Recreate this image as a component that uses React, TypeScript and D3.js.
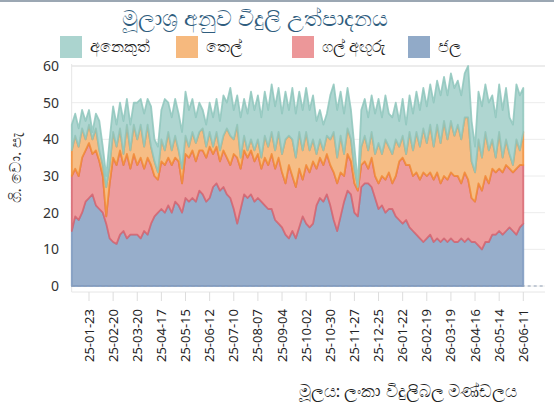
import React from "react";
import * as d3 from "d3";

// ---- data (GWh per day, sampled every 4 days from start date) ----
const startDate = "2025-01-03";
const stepDays = 4;

const hydro = [
  15, 19, 18, 20, 23, 24, 25, 22, 21, 20,
  17, 13, 12, 11.5, 14, 15, 13, 14, 14, 14,
  13, 15, 14, 17, 19, 20, 21, 20, 22, 20,
  23, 22, 20, 24, 23, 24, 23, 26, 25, 23,
  24, 27, 28, 26, 27, 25, 24, 21, 17, 21,
  25, 24, 25, 23, 24, 23, 22, 21, 21, 18,
  17, 16, 14, 13, 15, 13, 16, 19, 17, 16,
  17, 22, 24, 23, 25, 22, 18, 15, 19, 23,
  26, 25, 20, 19, 27, 28, 28, 27, 24, 21,
  22, 20, 21, 21, 19, 18, 17, 18, 16, 15,
  14, 13, 12, 13, 14, 12, 13, 12, 13, 12,
  13, 12, 12, 13, 12, 13, 12, 12, 11, 10,
  12, 12, 14, 14, 15, 14, 15, 16, 15, 14,
  16, 17,
];
const coal = [
  15, 13, 12, 15, 14, 15, 11, 15, 13, 10,
  2, 15, 23, 21.5, 23, 18, 23, 18, 22, 19,
  22, 17, 21, 16, 11, 9, 13, 13, 13, 13,
  12, 12, 8, 12, 12, 13, 11, 11, 12, 12,
  14, 9, 10, 8, 10, 10, 9, 15, 18, 11,
  12, 11, 12, 11, 12, 9, 13, 12, 15, 14,
  18, 15, 14, 20, 15, 14, 16, 10, 16, 15,
  17, 10, 11, 10, 11, 11, 13, 13, 12, 7,
  10, 9, 8, 7, 6, 6, 4, 8, 6, 7,
  8, 9, 10, 7, 11, 16, 18, 15, 17, 15,
  17, 16, 19, 17, 17, 17, 18, 16, 17, 17,
  18, 18, 18, 15, 19, 16, 12, 11, 17, 16,
  18, 16, 18, 17, 17, 17, 18, 16, 16, 18,
  17, 16,
];
const oil = [
  7, 9, 8, 8, 3, 5, 4, 6, 3, 3,
  8, 5, 7, 5, 6, 3, 8, 5, 8, 7,
  9, 6, 9, 5, 4, 2, 6, 4, 7, 4,
  6, 3, 4, 5, 3, 5, 5, 5, 6, 3,
  4, 2, 4, 3, 4, 8, 8, 4, 9, 3,
  4, 2, 3, 3, 4, 3, 6, 5, 6, 5,
  7, 5, 12, 8, 10, 8, 10, 8, 9, 6,
  6, 4, 5, 4, 5, 7, 11, 7, 10, 6,
  7, 6, 4, 1, 5, 7, 5, 7, 6, 11,
  6, 11, 7, 8, 10, 4, 6, 3, 9, 7,
  11, 9, 12, 9, 13, 9, 13, 11, 15, 11,
  14, 11, 14, 12, 15, 17, 10, 8, 12, 9,
  12, 9, 8, 4, 10, 4, 7, 4, 2, 8,
  4, 9,
];
const other = [
  7, 6, 5, 5, 5, 4, 2, 4, 8, 5,
  3, 7, 7, 6, 7, 9, 7, 7, 6, 10,
  7, 9, 7, 11, 6, 7, 8, 14, 8, 9,
  10, 10, 10, 12, 10, 9, 7, 8, 5, 6,
  8, 8, 9, 8, 11, 7, 13, 8, 8, 11,
  10, 10, 13, 11, 12, 11, 12, 10, 13, 12,
  12, 11, 13, 7, 14, 12, 11, 11, 12, 11,
  12, 9, 8, 7, 6, 12, 13, 13, 12, 11,
  11, 8, 6, 1, 10, 10, 9, 10, 11, 12,
  10, 12, 9, 10, 10, 7, 10, 8, 10, 10,
  11, 10, 11, 10, 11, 12, 12, 13, 12, 12,
  13, 13, 12, 12, 12, 14, 11, 7, 13, 14,
  13, 13, 12, 11, 13, 13, 14, 10, 11, 15,
  15, 12,
];

const seriesKeys = ["hydro", "coal", "oil", "other"];
const seriesLabels = ["ජල", "ගල් අඟුරු", "තෙල්", "අනෙකුත්"];
const legendOrder = ["other", "oil", "coal", "hydro"];
const fillColors = ["#91aac8", "#ec9799", "#f6b97e", "#abd4cf"];
const strokeColors = ["#7d99c0", "#d7646e", "#f28c36", "#8ec6bc"];

const yTicks = [0, 10, 20, 30, 40, 50, 60];
const firstTick = "2025-01-23";
const tickStepDays = 28;
const tickCount = 19;

const title = "මූලාශ්‍ර අනුව විදුලි උත්පාදනය";
const yLabel = "ගි. වො. පැ";
const source = "මූලය: ලංකා විදුලිබල මණ්ඩලය";

const W = 554;
const H = 405;
const FONT = "'Noto Sans', 'Segoe UI', sans-serif";

export default function App() {
  const parse = d3.utcParse("%Y-%m-%d");
  const fmt = d3.utcFormat("%y-%m-%d");
  const t0 = parse(startDate)!;
  const rows = hydro.map((h, i) => ({
    date: d3.utcDay.offset(t0, i * stepDays),
    hydro: h,
    coal: coal[i],
    oil: oil[i],
    other: other[i],
  }));
  const ticks = d3.range(tickCount).map((k) =>
    d3.utcDay.offset(parse(firstTick)!, k * tickStepDays)
  );

  const x = d3
    .scaleUtc()
    .domain([ticks[0], ticks[ticks.length - 1]])
    .range([89, 523.3]);
  const y = d3.scaleLinear().domain([0, 60]).range([286, 66]);
  const plotL = 71.7;
  const plotR = 545;
  const axisY = 292;

  const stacked = d3.stack<any>().keys(seriesKeys)(rows);
  const area = d3
    .area<any>()
    .x((d) => x(d.data.date))
    .y0((d) => y(d[0]))
    .y1((d) => y(d[1]))
    .curve(d3.curveLinear);

  return (
    <div style={{ position: "absolute", left: 0, top: 0 }}>
      <svg width={W} height={H} style={{ display: "block", fontFamily: FONT }}>
        <rect x={0} y={0} width={W} height={H} fill="#ffffff" />
        <rect x={0} y={0} width={W} height={2} fill="#9ba7b3" />
        <text x={255} y={26} textAnchor="middle" fontSize={22} fill="#2f5d7e">
          {title}
        </text>
        {legendOrder.map((k, i) => {
          const idx = seriesKeys.indexOf(k);
          const lx = 60 + i * 116;
          return (
            <g key={k}>
              <rect x={lx} y={36} width={22} height={22} fill={fillColors[idx]} />
              <text x={lx + 30} y={52} fontSize={15.5} fill="#222">
                {seriesLabels[idx]}
              </text>
            </g>
          );
        })}
        {/* grid */}
        {yTicks.map((v) => (
          <line
            key={v}
            x1={plotL}
            x2={plotR}
            y1={y(v)}
            y2={y(v)}
            stroke="#ececec"
            strokeWidth={v === 60 ? 2 : 1}
          />
        ))}
        <line x1={plotL} x2={plotL} y1={64} y2={axisY} stroke="#e6e6e6" />
        <line x1={plotL} x2={plotR} y1={axisY} y2={axisY} stroke="#e6e6e6" />
        {ticks.map((t, i) => (
          <line
            key={i}
            x1={x(t)}
            x2={x(t)}
            y1={axisY}
            y2={axisY + 9}
            stroke="#dddddd"
          />
        ))}
        {/* areas */}
        {stacked.map((s, i) => (
          <path
            key={s.key}
            d={area(s) || ""}
            fill={fillColors[i]}
            fillOpacity={0.95}
            stroke={strokeColors[i]}
            strokeOpacity={0.85}
            strokeWidth={1.8}
            strokeLinejoin="round"
          />
        ))}
        <line
          x1={plotL}
          x2={plotR}
          y1={y(0)}
          y2={y(0)}
          stroke="#8f9fb5"
          strokeDasharray="3,3"
          strokeWidth={1}
        />
        {/* y ticks */}
        {yTicks.map((v) => (
          <text
            key={v}
            x={59}
            y={y(v) + 5}
            textAnchor="end"
            fontSize={14}
            fill="#333"
          >
            {v}
          </text>
        ))}
        <text
          transform={`translate(21,168) rotate(-90)`}
          textAnchor="middle"
          fontSize={16}
          fill="#333"
        >
          {yLabel}
        </text>
        {ticks.map((t, i) => (
          <text
            key={i}
            transform={`translate(${x(t) + 4.5},309) rotate(-90)`}
            textAnchor="end"
            fontSize={13}
            fill="#222"
          >
            {fmt(t)}
          </text>
        ))}
        <text x={517} y={397} textAnchor="end" fontSize={16.5} fill="#222">
          {source}
        </text>
      </svg>
    </div>
  );
}
